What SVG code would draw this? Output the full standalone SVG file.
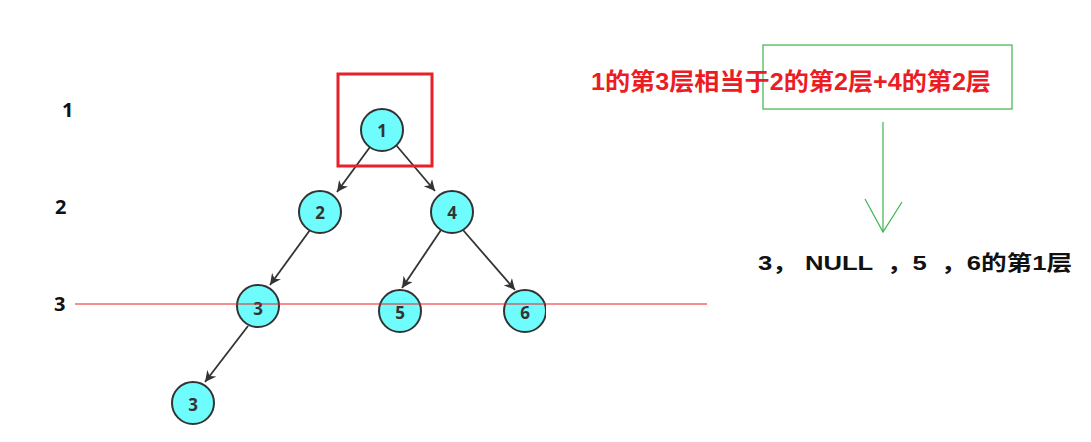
<svg xmlns="http://www.w3.org/2000/svg" width="1091" height="442" viewBox="0 0 1091 442">
<style>
.node circle{fill:#6ffcfc;stroke:#333;stroke-width:2}
.node text{font-family:"Open Sans","Noto Sans",sans-serif;font-weight:bold;font-size:17px;fill:#333;text-anchor:middle;dominant-baseline:central}
.edge{stroke:#333;stroke-width:1.8;fill:none;marker-end:url(#ah)}
.lvl{font-family:"Open Sans","Noto Sans",sans-serif;font-weight:bold;font-size:20px;fill:#111}
</style>
<defs>
<marker id="ah" viewBox="0 0 10 10" refX="10" refY="5" markerWidth="13" markerHeight="11" markerUnits="userSpaceOnUse" orient="auto">
<path d="M0,0 L10,5 L0,10 L3,5 z" fill="#333"/>
</marker>
</defs>
<rect width="1091" height="442" fill="#fff"/>
<g id="levels">
<text class="lvl" x="62" y="117">1</text>
<text class="lvl" x="55" y="214">2</text>
<text class="lvl" x="54" y="311">3</text>
</g>
<g id="connectors">
<line class="edge" x1="370" y1="147" x2="337" y2="192"/>
<line class="edge" x1="396" y1="145" x2="435" y2="191"/>
<line class="edge" x1="310" y1="230" x2="270" y2="285"/>
<line class="edge" x1="441" y1="230" x2="402" y2="288"/>
<line class="edge" x1="463" y1="230" x2="515" y2="290"/>
<line class="edge" x1="248" y1="326" x2="205" y2="382"/>
</g>
<g id="n1" class="node"><circle cx="382" cy="130" r="21"/><text x="382" y="130">1</text></g>
<g id="n2" class="node"><circle cx="320" cy="212" r="21"/><text x="320" y="212">2</text></g>
<g id="n4" class="node"><circle cx="452" cy="212" r="21"/><text x="452" y="212">4</text></g>
<g id="n3" class="node"><circle cx="258" cy="306" r="21"/><text x="258" y="308">3</text></g>
<g id="n5" class="node"><circle cx="400" cy="311" r="21"/><text x="400" y="312">5</text></g>
<g id="n6" class="node"><circle cx="525" cy="311" r="21"/><text x="525" y="312">6</text><rect x="546" y="285" width="20" height="55" fill="#fff"/></g>
<g id="n3b" class="node"><circle cx="193" cy="403" r="21"/><text x="193" y="404">3</text></g>
<g id="highlight">
<rect x="338" y="74" width="94" height="92" fill="none" stroke="#e8202a" stroke-width="3"/>
<line x1="75" y1="304" x2="707" y2="304" stroke="#ee1c28" stroke-width="1.2"/>
</g>
<g id="note">
<rect x="763" y="45" width="249" height="64" fill="none" stroke="#3cb54a" stroke-width="1.2"/>
<text x="591" y="90" font-family="'Liberation Sans','Noto Sans CJK SC',sans-serif" font-weight="bold" font-size="24" fill="#ec1c24" textLength="400" lengthAdjust="spacingAndGlyphs">1的第3层相当于2的第2层+4的第2层</text>
<g stroke="#3cb54a" stroke-width="1.2" fill="none">
<line x1="883" y1="122" x2="883" y2="232"/>
<polyline points="865,199 883,232 902,202"/>
</g>
<text x="758" y="270" font-family="'Liberation Sans','Noto Sans CJK SC',sans-serif" font-weight="bold" font-size="21" fill="#111" textLength="314" lengthAdjust="spacingAndGlyphs" xml:space="preserve">3， NULL  ，5  ，6的第1层</text>
</g>
</svg>
